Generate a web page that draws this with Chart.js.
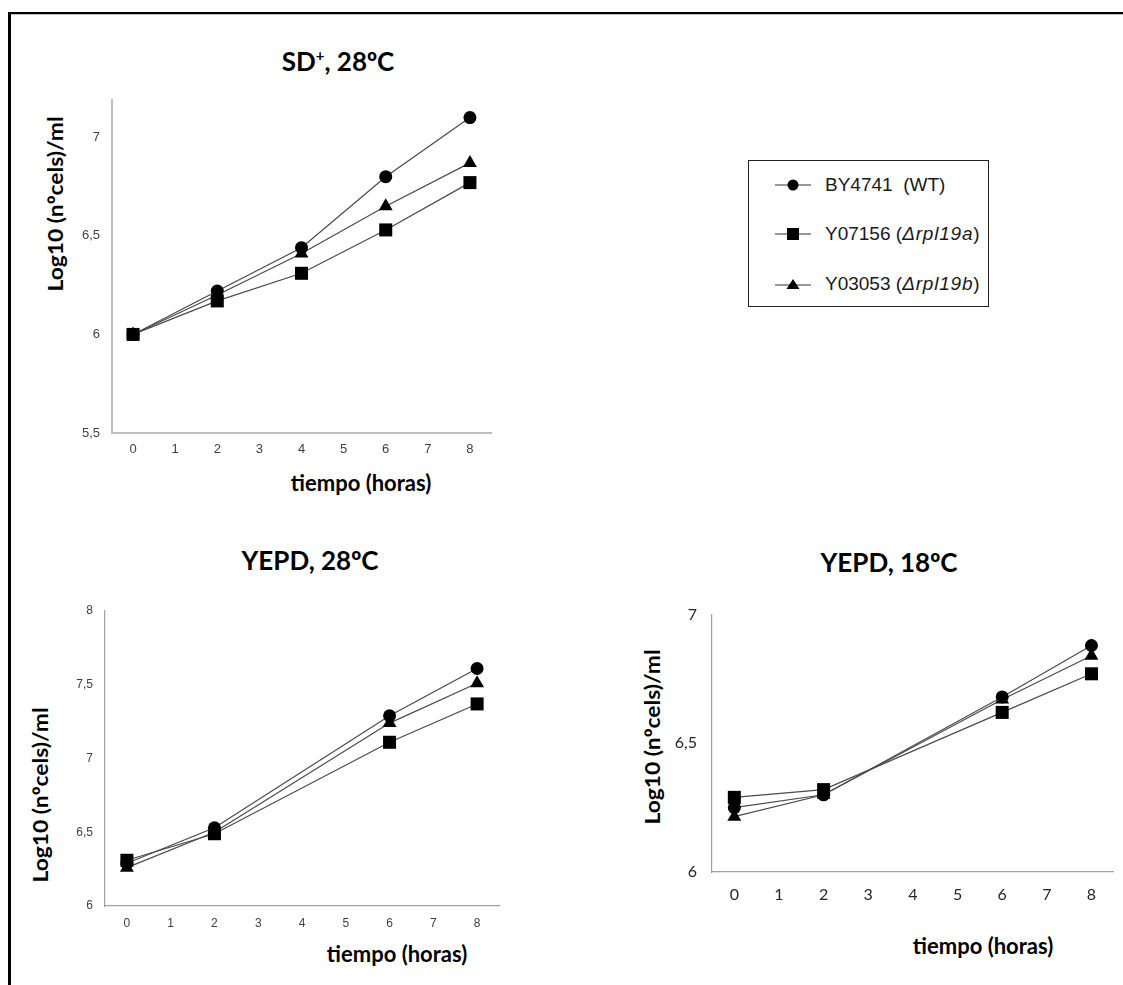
<!DOCTYPE html>
<html>
<head>
<meta charset="utf-8">
<script src="https://cdn.jsdelivr.net/npm/chart.js@4/dist/chart.umd.min.js"></script>
<style>
  html, body { margin:0; padding:0; background:#fff; }
  #page { position:relative; width:1123px; height:985px; overflow:hidden; background:#fff; }
  .frame { position:absolute; left:8px; top:12px; width:1130px; height:990px;
           border-top:2px solid #000; border-left:3px solid #000; box-shadow: 0 1px 0 #bbb inset; }
  .cv { position:absolute; }
  .o { font-family:"Open Sans", "Noto Sans", sans-serif; }
  .title { position:absolute; font-family:Lato, "Open Sans", sans-serif; font-weight:700;
           font-size:26px; line-height:1; color:#000; white-space:nowrap; transform:translate(-50%,-50%); }
  .title sup { font-size:15px; vertical-align:0; position:relative; top:-10px; }
  .xt { position:absolute; font-family:Lato, sans-serif; font-weight:700; font-size:22px; line-height:1;
        color:#000; white-space:nowrap; transform:translate(-50%,-50%); }
  .yt { position:absolute; font-family:Lato, sans-serif; font-weight:700; font-size:21px; line-height:1;
        color:#000; white-space:nowrap; transform:translate(-50%,-50%) rotate(-90deg) scaleX(1.085); }
  #legend { position:absolute; left:748px; top:160px; width:239px; height:145px; border:1px solid #222;
            font-family:"Liberation Sans", Arial, sans-serif; font-size:19px; color:#1a1a1a; }
  #legend i { letter-spacing:0.8px; }
  .lrow { position:absolute; left:26px; height:20px; display:flex; align-items:center; white-space:nowrap; }
  .lrow svg { margin-right:14px; }
</style>
</head>
<body>
<div id="page">
  <div class="frame"></div>

  <div class="title" style="left:338px; top:61px;">SD<sup>+</sup>, 28<span class="o">º</span>C</div>
  <div class="yt" style="left:55px; top:204px;">Log10 (n<span class="o">º</span>cels)/ml</div>
  <div class="xt" style="left:361px; top:483px;">tiempo (horas)</div>
  <div class="cv" style="left:50px; top:80px; width:460px; height:400px;"><canvas id="c1"></canvas></div>

  <div id="legend">
    <div class="lrow" style="top:14px;">
      <svg width="36" height="14"><line x1="0" y1="7" x2="36" y2="7" stroke="#333" stroke-width="1"/><circle cx="18" cy="7" r="5.5" fill="#000"/></svg>
      <span>BY4741&nbsp; (WT)</span>
    </div>
    <div class="lrow" style="top:63px;">
      <svg width="36" height="14"><line x1="0" y1="7" x2="36" y2="7" stroke="#333" stroke-width="1"/><rect x="12" y="1" width="12" height="12" fill="#000"/></svg>
      <span>Y07156 (<i>Δrpl19a</i>)</span>
    </div>
    <div class="lrow" style="top:113px;">
      <svg width="36" height="14"><line x1="0" y1="8" x2="36" y2="8" stroke="#333" stroke-width="1"/><polygon points="18,2 24.5,12 11.5,12" fill="#000"/></svg>
      <span>Y03053 (<i>Δrpl19b</i>)</span>
    </div>
  </div>

  <div class="title" style="left:310px; top:560px;">YEPD, 28<span class="o">º</span>C</div>
  <div class="yt" style="left:40px; top:795px;">Log10 (n<span class="o">º</span>cels)/ml</div>
  <div class="xt" style="left:397px; top:954px;">tiempo (horas)</div>
  <div class="cv" style="left:45px; top:590px; width:470px; height:360px;"><canvas id="c2"></canvas></div>

  <div class="title" style="left:889px; top:562px;">YEPD, 18<span class="o">º</span>C</div>
  <div class="yt" style="left:652px; top:737px;">Log10 (n<span class="o">º</span>cels)/ml</div>
  <div class="xt" style="left:983px; top:946px;">tiempo (horas)</div>
  <div class="cv" style="left:650px; top:590px; width:473px; height:320px;"><canvas id="c3"></canvas></div>
</div>

<script>
// ---------- data ----------
const seriesNames = ['BY4741 (WT)', 'Y07156 (Δrpl19a)', 'Y03053 (Δrpl19b)'];
const xTickLabels = [0, 1, 2, 3, 4, 5, 6, 7, 8];

// SD+, 28ºC
const sdHours = [0, 2, 4, 6, 8];
const sdWT    = [6.00, 6.22, 6.44, 6.80, 7.10];
const sdRpl19a = [6.00, 6.17, 6.31, 6.53, 6.77];
const sdRpl19b = [6.00, 6.20, 6.41, 6.65, 6.87];
const sdYTicks = [5.5, 6, 6.5, 7];

// YEPD, 28ºC
const y28Hours = [0, 2, 6, 8];
const y28WT    = [6.29, 6.53, 7.29, 7.61];
const y28Rpl19a = [6.31, 6.49, 7.11, 7.37];
const y28Rpl19b = [6.26, 6.50, 7.24, 7.51];
const y28YTicks = [6, 6.5, 7, 7.5, 8];

// YEPD, 18ºC
const y18Hours = [0, 2, 6, 8];
const y18WT    = [6.25, 6.30, 6.68, 6.88];
const y18Rpl19a = [6.29, 6.32, 6.62, 6.77];
const y18Rpl19b = [6.215, 6.30, 6.67, 6.84];
const y18YTicks = [6, 6.5, 7];

// ---------- helpers ----------
function pts(xs, ys) { return xs.map((x, i) => ({ x: x, y: ys[i] })); }
const styles = [
  { pointStyle: 'circle', pointRadius: 6.5 },
  { pointStyle: 'rect', pointRadius: 9.2 },
  { pointStyle: 'triangle', pointRadius: 8 }
];
function makeDatasets(xs, arrs) {
  return arrs.map((a, i) => Object.assign({
    label: seriesNames[i],
    data: pts(xs, a),
    borderColor: '#4a4a4a',
    borderWidth: 1.2,
    pointBackgroundColor: '#000',
    pointBorderColor: '#000',
    pointBorderWidth: 0,
    tension: 0,
    clip: false
  }, styles[i]));
}

function makeChart(id, cfg) {
  const tickFont = cfg.tickFont;
  new Chart(document.getElementById(id), {
    type: 'line',
    data: { datasets: makeDatasets(cfg.xs, cfg.series) },
    options: {
      responsive: true,
      maintainAspectRatio: false,
      animation: false,
      events: [],
      layout: { padding: cfg.padding },
      plugins: { legend: { display: false }, tooltip: { enabled: false }, title: { display: false } },
      scales: {
        x: {
          type: 'linear', min: -0.5, max: 8.5,
          grid: { display: false, drawTicks: false },
          border: { display: true, color: cfg.axisColor, width: cfg.axisWidth },
          ticks: { font: tickFont, color: cfg.tickColor, padding: cfg.xPad, callback: v => String(v) },
          afterBuildTicks: s => { s.ticks = xTickLabels.map(v => ({ value: v })); },
          afterFit: s => { s.height = cfg.xHeight; }
        },
        y: {
          type: 'linear', min: cfg.yMin, max: cfg.yMax,
          grid: { display: false, drawTicks: false },
          border: { display: true, color: cfg.axisColor, width: cfg.axisWidth },
          ticks: { font: tickFont, color: cfg.tickColor, padding: cfg.yPad,
                   callback: v => String(v).replace('.', ',') },
          afterBuildTicks: s => { s.ticks = cfg.yTicks.map(v => ({ value: v })); },
          afterFit: s => { s.width = cfg.yWidth; }
        }
      }
    }
  });
}

makeChart('c1', {
  xs: sdHours, series: [sdWT, sdRpl19a, sdRpl19b],
  yMin: 5.5, yMax: 7.19, yTicks: sdYTicks,
  padding: { left: 12, top: 17, right: 19, bottom: 7 },
  yWidth: 50, xHeight: 40, xPad: 9, yPad: 12,
  axisColor: '#bdbdbd', axisWidth: 2,
  tickFont: { family: '"Liberation Sans", Arial, sans-serif', size: 13 }, tickColor: '#404040'
});

makeChart('c2', {
  xs: y28Hours, series: [y28WT, y28Rpl19a, y28Rpl19b],
  yMin: 6, yMax: 8, yTicks: y28YTicks,
  padding: { left: 10, top: 21, right: 16, bottom: 8 },
  yWidth: 50, xHeight: 36, xPad: 10, yPad: 12,
  axisColor: '#a0a0a0', axisWidth: 1.2,
  tickFont: { family: '"Liberation Sans", Arial, sans-serif', size: 12 }, tickColor: '#404040'
});

makeChart('c3', {
  xs: y18Hours, series: [y18WT, y18Rpl19a, y18Rpl19b],
  yMin: 6, yMax: 7, yTicks: y18YTicks,
  padding: { left: 10, top: 22, right: 5, bottom: 8 },
  yWidth: 52, xHeight: 30, xPad: 13, yPad: 15,
  axisColor: '#a0a0a0', axisWidth: 1.2,
  tickFont: { family: 'Lato, sans-serif', size: 16 }, tickColor: '#262626'
});
</script>
</body>
</html>
